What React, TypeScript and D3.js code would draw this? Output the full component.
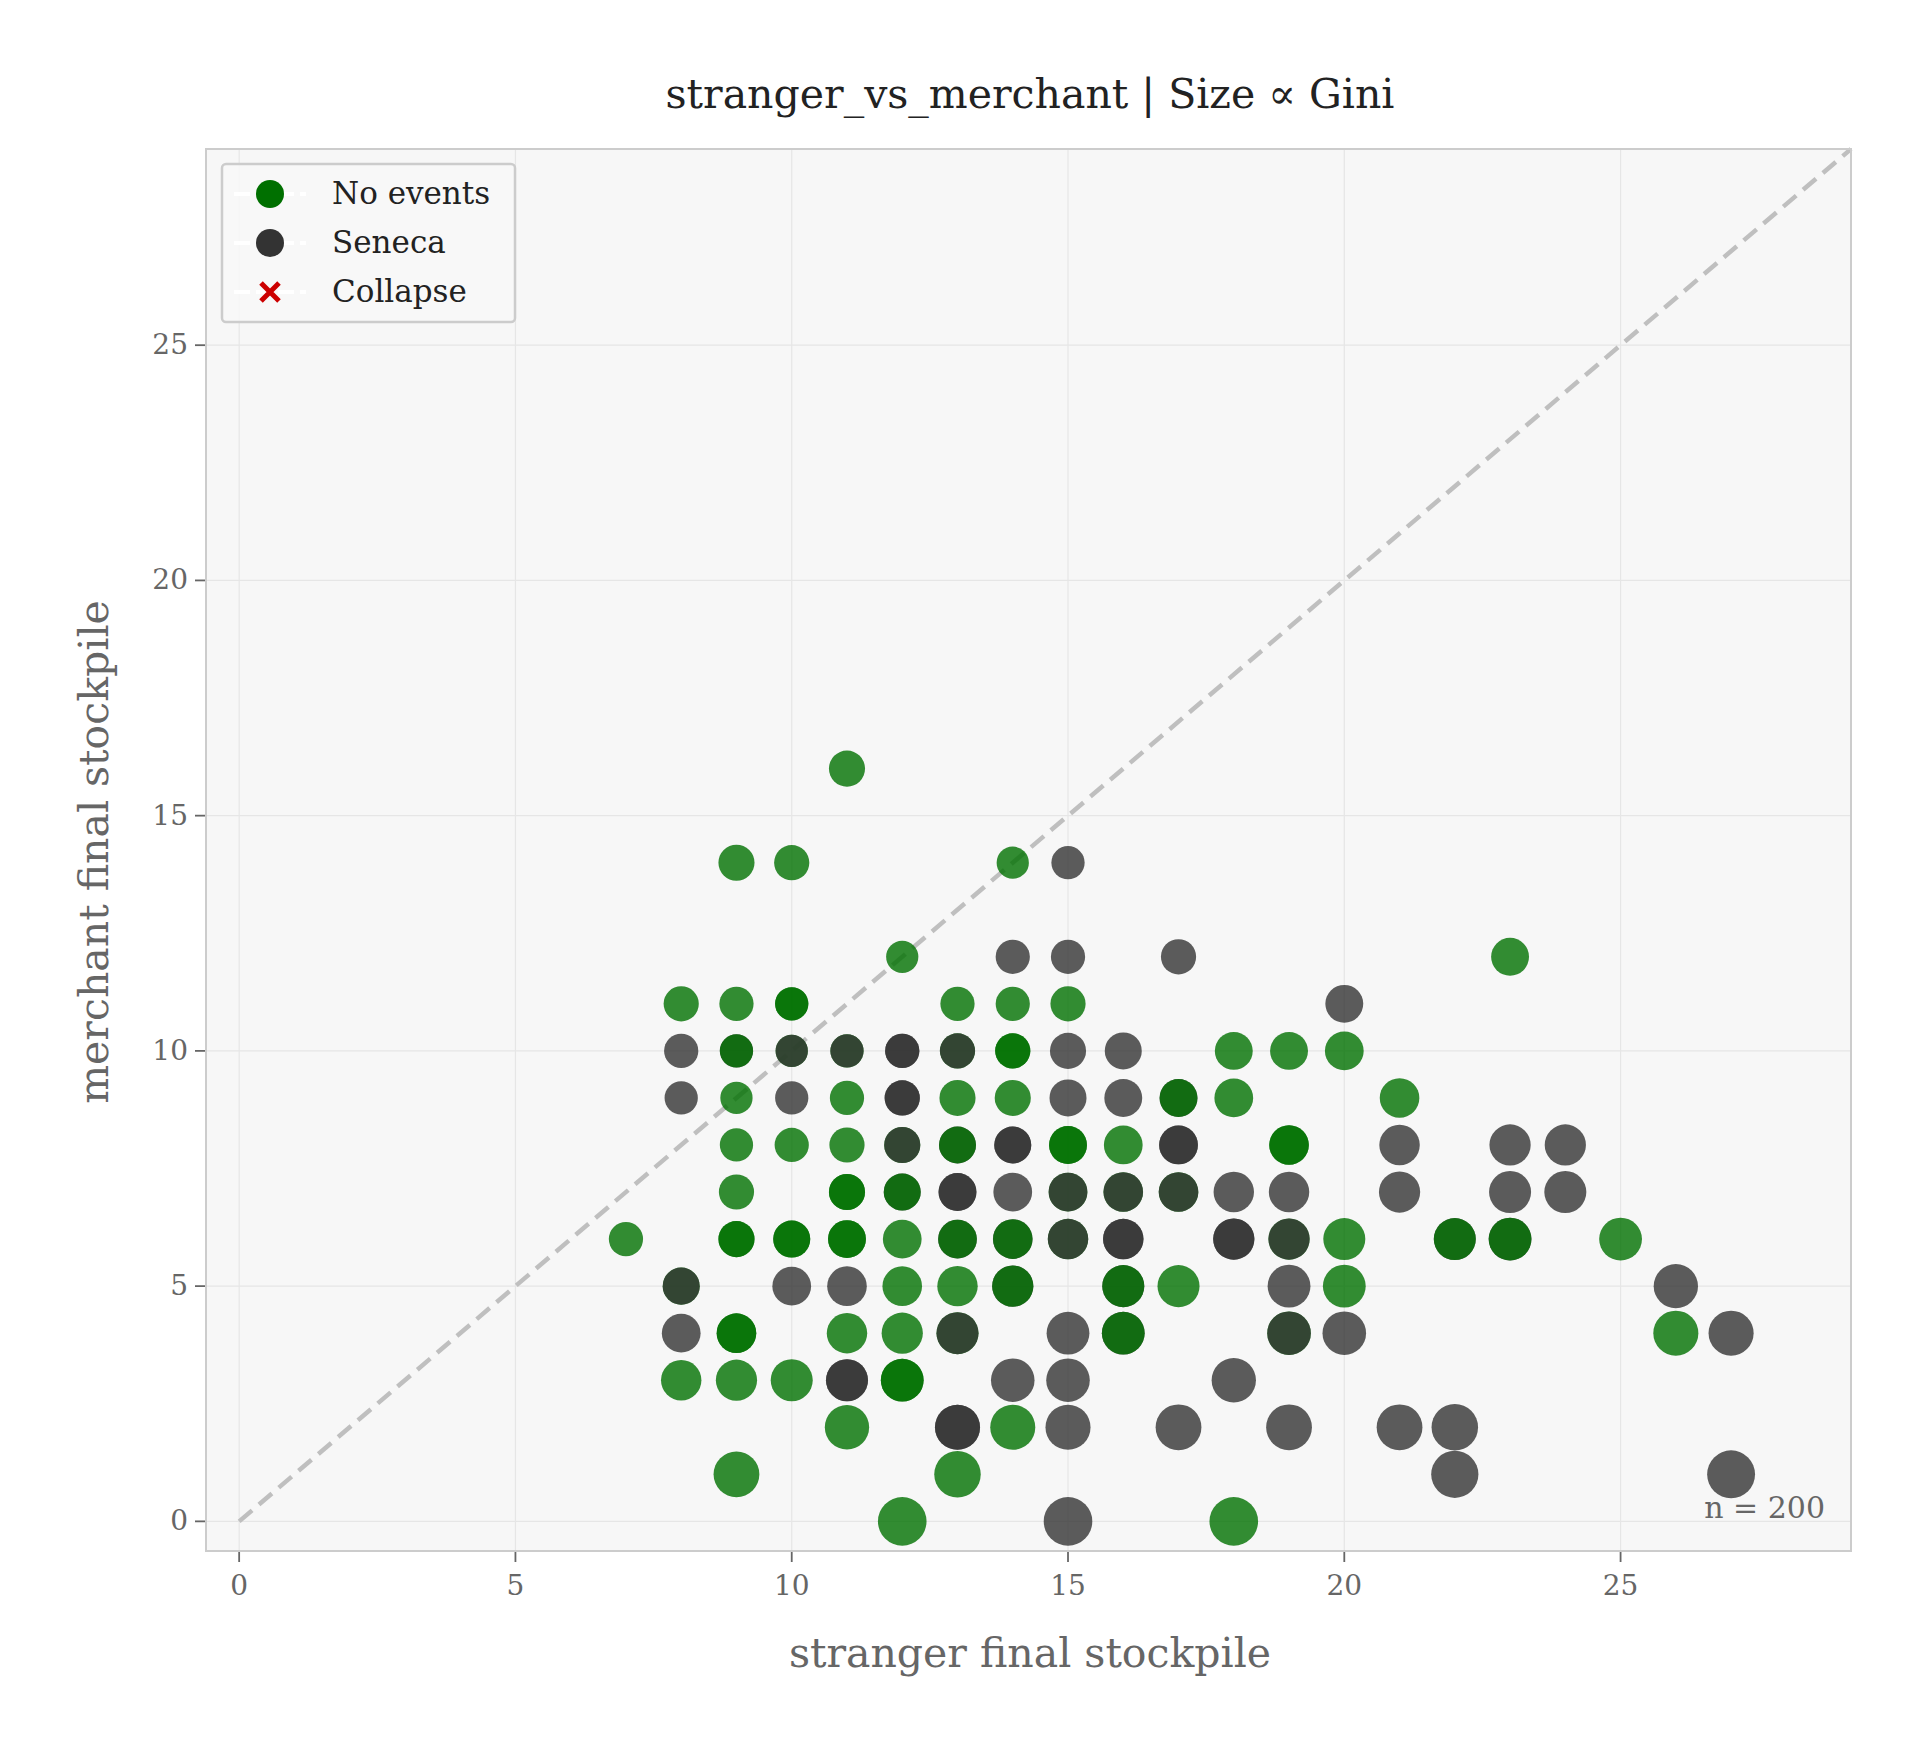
import * as d3 from "d3";

// [stranger, merchant, layers (g = No events, s = Seneca, in draw order), gini]
type Pt = [number, number, string, number];

const points: Pt[] = [
  [11, 16, "g", 0.2],
  [9, 14, "g", 0.2], [10, 14, "g", 0.15], [14, 14, "g", 0], [15, 14, "s", 0.05],
  [12, 12, "g", 0], [14, 12, "s", 0.1], [15, 12, "s", 0.1], [17, 12, "s", 0.15], [23, 12, "g", 0.3],
  [8, 11, "g", 0.15], [9, 11, "g", 0.1], [10, 11, "gg", 0.05], [13, 11, "g", 0.1], [14, 11, "g", 0.1],
  [15, 11, "g", 0.15], [20, 11, "s", 0.3],
  [8, 10, "s", 0.1], [9, 10, "sg", 0.05], [10, 10, "gs", 0], [11, 10, "gs", 0.05], [12, 10, "ss", 0.1],
  [13, 10, "gs", 0.15], [14, 10, "gg", 0.15], [15, 10, "s", 0.2], [16, 10, "s", 0.25], [18, 10, "g", 0.3],
  [19, 10, "g", 0.3], [20, 10, "g", 0.35],
  [8, 9, "s", 0.05], [9, 9, "g", 0], [10, 9, "s", 0.05], [11, 9, "g", 0.1], [12, 9, "ss", 0.15],
  [13, 9, "g", 0.2], [14, 9, "g", 0.2], [15, 9, "s", 0.25], [16, 9, "s", 0.3], [17, 9, "sg", 0.3],
  [18, 9, "g", 0.35], [21, 9, "g", 0.4],
  [9, 8, "g", 0.05], [10, 8, "g", 0.1], [11, 8, "g", 0.15], [12, 8, "gs", 0.2], [13, 8, "sg", 0.25],
  [14, 8, "ss", 0.25], [15, 8, "gg", 0.3], [16, 8, "g", 0.35], [17, 8, "ss", 0.35], [19, 8, "gg", 0.4],
  [21, 8, "s", 0.45], [23, 8, "s", 0.5], [24, 8, "s", 0.5],
  [9, 7, "g", 0.15], [11, 7, "gg", 0.2], [12, 7, "sg", 0.25], [13, 7, "ss", 0.3], [14, 7, "s", 0.35],
  [15, 7, "gs", 0.35], [16, 7, "gs", 0.4], [17, 7, "gs", 0.4], [18, 7, "s", 0.45], [19, 7, "s", 0.45],
  [21, 7, "s", 0.5], [23, 7, "s", 0.55], [24, 7, "s", 0.55],
  [7, 6, "g", 0.1], [9, 6, "gg", 0.2], [10, 6, "gg", 0.25], [11, 6, "gg", 0.3], [12, 6, "g", 0.35],
  [13, 6, "sg", 0.35], [14, 6, "sg", 0.4], [15, 6, "gs", 0.45], [16, 6, "ss", 0.45], [18, 6, "ss", 0.5],
  [19, 6, "gs", 0.5], [20, 6, "g", 0.55], [22, 6, "sg", 0.55], [23, 6, "sg", 0.6], [25, 6, "g", 0.6],
  [8, 5, "gs", 0.25], [10, 5, "s", 0.35], [11, 5, "s", 0.4], [12, 5, "g", 0.4], [13, 5, "g", 0.45],
  [14, 5, "sg", 0.5], [16, 5, "sg", 0.55], [17, 5, "g", 0.55], [19, 5, "s", 0.6], [20, 5, "g", 0.6],
  [26, 5, "s", 0.7],
  [8, 4, "s", 0.35], [9, 4, "gg", 0.4], [11, 4, "g", 0.45], [12, 4, "g", 0.5], [13, 4, "gs", 0.55],
  [15, 4, "s", 0.6], [16, 4, "sg", 0.6], [19, 4, "gs", 0.65], [20, 4, "s", 0.65], [26, 4, "g", 0.75],
  [27, 4, "s", 0.75],
  [8, 3, "g", 0.45], [9, 3, "g", 0.5], [10, 3, "g", 0.55], [11, 3, "ss", 0.55], [12, 3, "gg", 0.6],
  [14, 3, "s", 0.65], [15, 3, "s", 0.65], [18, 3, "s", 0.7],
  [11, 2, "g", 0.7], [13, 2, "ss", 0.75], [14, 2, "g", 0.75], [15, 2, "s", 0.75], [17, 2, "s", 0.8],
  [19, 2, "s", 0.8], [21, 2, "s", 0.8], [22, 2, "s", 0.85],
  [9, 1, "g", 0.8], [13, 1, "g", 0.85], [22, 1, "s", 0.9], [27, 1, "s", 0.95],
  [12, 0, "g", 1], [15, 0, "s", 1], [18, 0, "g", 1],
];

const ticks = [0, 5, 10, 15, 20, 25];
const legendItems = ["No events", "Seneca", "Collapse"];
const colors: Record<string, string> = { g: "#007000", s: "#333333" };

const W = 1924;
const H = 1744;
const L = 206, R = 1851, T = 149, B = 1551;
const font = "'DejaVu Serif', serif";

export default function App() {
  const x = d3.scaleLinear().domain([-0.6, 29.17]).range([L, R]);
  const y = d3.scaleLinear().domain([-0.63, 29.17]).range([B, T]);
  const r = (g: number) => Math.sqrt(260 + 330 * g);
  const layers = points.flatMap(([px, py, lay, g]) =>
    lay.split("").map((c) => ({ px, py, c, g }))
  );
  return (
    <svg width={W} height={H} style={{ display: "block", margin: -8 }} fontFamily={font}>
      <rect width={W} height={H} fill="#fff" />
      <rect x={L} y={T} width={R - L} height={B - T} fill="#f7f7f7" />
      {ticks.map((t) => (
        <g key={t}>
          <line x1={x(t)} x2={x(t)} y1={T} y2={B} stroke="#e6e6e6" strokeWidth={1.2} />
          <line x1={L} x2={R} y1={y(t)} y2={y(t)} stroke="#e6e6e6" strokeWidth={1.2} />
          <line x1={x(t)} x2={x(t)} y1={B} y2={B + 11} stroke="#666" strokeWidth={1.8} />
          <line x1={L - 11} x2={L} y1={y(t)} y2={y(t)} stroke="#666" strokeWidth={1.8} />
          <text x={x(t)} y={B + 44} fontSize={28} fill="#666" textAnchor="middle">{t}</text>
          <text x={L - 18} y={y(t) + 9} fontSize={28} fill="#666" textAnchor="end">{t}</text>
        </g>
      ))}
      <line x1={x(0)} y1={y(0)} x2={x(29.17)} y2={y(29.17)} stroke="#bfbfbf" strokeWidth={4.5} strokeDasharray="17 9" />
      {layers.map((d, i) => (
        <circle key={i} cx={x(d.px)} cy={y(d.py)} r={r(d.g)} fill={colors[d.c]} fillOpacity={0.8} />
      ))}
      <rect x={L} y={T} width={R - L} height={B - T} fill="none" stroke="#cccccc" strokeWidth={2} />
      <text x={1825} y={1518} fontSize={30} fill="#666" textAnchor="end">n = 200</text>
      <text x={1030} y={108} fontSize={41} fill="#222" textAnchor="middle">stranger_vs_merchant | Size ∝ Gini</text>
      <text x={1030} y={1667} fontSize={41} fill="#666" textAnchor="middle">stranger final stockpile</text>
      <text transform="translate(108,852) rotate(-90)" fontSize={41} fill="#666" textAnchor="middle">merchant final stockpile</text>
      <g>
        <rect x={222} y={164} width={293} height={158} rx={4} fill="#f7f7f7" fillOpacity={0.9} stroke="#cccccc" strokeWidth={2.5} />
        {legendItems.map((name, i) => {
          const cy = 194 + i * 49;
          return (
            <g key={name}>
              <line x1={234} x2={306} y1={cy} y2={cy} stroke="#fff" strokeWidth={4} strokeDasharray="16 6" />
              {i < 2 ? (
                <circle cx={270} cy={cy} r={14} fill={i === 0 ? "#007000" : "#333333"} />
              ) : (
                <path d={`M${261},${cy - 9}L${279},${cy + 9}M${279},${cy - 9}L${261},${cy + 9}`} stroke="#cc0000" strokeWidth={5} />
              )}
              <text x={332} y={cy + 10} fontSize={31} fill="#222">{name}</text>
            </g>
          );
        })}
      </g>
    </svg>
  );
}
